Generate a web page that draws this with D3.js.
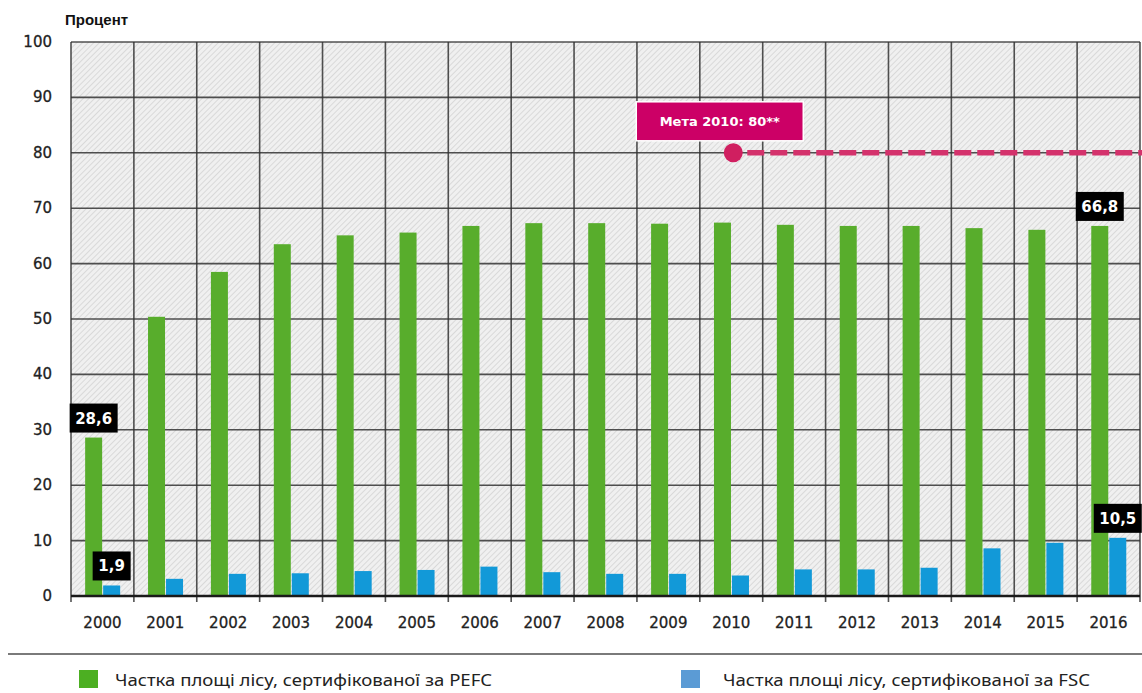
<!DOCTYPE html>
<html>
<head>
<meta charset="utf-8">
<script src="https://cdn.jsdelivr.net/npm/d3@7"></script>
<style>
  body { margin: 0; background: #fff; }
  svg { display: block; }
</style>
</head>
<body>
<svg id="chart"></svg>
<script>
let years = ["2000","2001","2002","2003","2004","2005","2006","2007","2008","2009","2010","2011","2012","2013","2014","2015","2016"];
let pefc = [28.6, 50.4, 58.5, 63.5, 65.1, 65.6, 66.8, 67.3, 67.3, 67.2, 67.4, 67.0, 66.8, 66.8, 66.4, 66.1, 66.8];
let fsc = [1.9, 3.1, 4.0, 4.1, 4.5, 4.7, 5.3, 4.3, 4.0, 4.0, 3.7, 4.8, 4.8, 5.1, 8.6, 9.6, 10.5];
let yTicks = [0, 10, 20, 30, 40, 50, 60, 70, 80, 90, 100];
let labels = [
    {series: "pefc", year: "2000", text: "28,6"},
    {series: "fsc", year: "2000", text: "1,9"},
    {series: "pefc", year: "2016", text: "66,8"},
    {series: "fsc", year: "2016", text: "10,5"}
];
let target = {year: "2010", value: 80, text: "Мета 2010: 80**"};
let legendItems = ["Частка площі лісу, сертифікованої за PEFC", "Частка площі лісу, сертифікованої за FSC"];

let width = 1142, height = 693;
let margin = {left: 71, right: 2, top: 42, bottom: 97};

let svg = d3.select("#chart")
    .attr("width", width)
    .attr("height", height);

let x = d3.scaleBand().domain(years).range([margin.left, width - margin.right]).padding(0);
let y = d3.scaleLinear().domain([0, 100]).range([height - margin.bottom, margin.top]);

let bw = x.bandwidth();
let barW = 17;
let greenOff = bw * 0.225, blueOff = greenOff + barW + 1;

//////////////////////////////////////////// hatch background
let defs = svg.append("defs");
let pat = defs.append("pattern")
    .attr("id", "hatch")
    .attr("patternUnits", "userSpaceOnUse")
    .attr("width", 4).attr("height", 4)
    .attr("patternTransform", "rotate(45)");
pat.append("rect").attr("width", 4).attr("height", 4).attr("fill", "#f0f0f0");
pat.append("line").attr("x1", 0).attr("y1", 0).attr("x2", 0).attr("y2", 4)
    .attr("stroke", "#cdcdcd").attr("stroke-width", 1.3);

svg.append("rect")
    .attr("x", margin.left).attr("y", y(100))
    .attr("width", width - margin.right - margin.left)
    .attr("height", y(0) - y(100))
    .attr("fill", "url(#hatch)");

//////////////////////////////////////////// grid
svg.append("g")
    .selectAll("line")
    .data(yTicks.filter(d => d > 0))
    .enter().append("line")
    .attr("x1", margin.left).attr("x2", width - margin.right)
    .attr("y1", d => y(d)).attr("y2", d => y(d))
    .attr("stroke", "#333").attr("stroke-width", 1.6).attr("stroke-opacity", 0.85);

let bounds = years.map(d => x(d)).concat([x(years[years.length - 1]) + bw]);
svg.append("g")
    .selectAll("line")
    .data(bounds)
    .enter().append("line")
    .attr("x1", d => d).attr("x2", d => d)
    .attr("y1", y(100)).attr("y2", y(0) + 6)
    .attr("stroke", "#333").attr("stroke-width", 1.6).attr("stroke-opacity", 0.85);

//////////////////////////////////////////// bars
svg.append("g")
    .selectAll("rect")
    .data(years)
    .enter().append("rect")
    .attr("x", d => x(d) + greenOff)
    .attr("y", (d, i) => y(pefc[i]))
    .attr("width", barW)
    .attr("height", (d, i) => y(0) - y(pefc[i]))
    .attr("fill", "#58ad2c");

svg.append("g")
    .selectAll("rect")
    .data(years)
    .enter().append("rect")
    .attr("x", d => x(d) + blueOff)
    .attr("y", (d, i) => y(fsc[i]))
    .attr("width", barW)
    .attr("height", (d, i) => y(0) - y(fsc[i]))
    .attr("fill", "#1299d8");

//////////////////////////////////////////// axes
svg.append("line")
    .attr("x1", margin.left).attr("x2", width - margin.right)
    .attr("y1", y(0)).attr("y2", y(0))
    .attr("stroke", "#1a1a1a").attr("stroke-width", 2.6);

svg.append("g")
    .selectAll("text")
    .data(yTicks)
    .enter().append("text")
    .attr("x", 52).attr("y", d => y(d) + 5)
    .attr("text-anchor", "end")
    .attr("font-family", "DejaVu Sans, Verdana, sans-serif")
    .attr("font-size", 15)
    .attr("fill", "#222")
    .attr("stroke", "#222").attr("stroke-width", 0.3)
    .text(d => d);

svg.append("g")
    .selectAll("text")
    .data(years)
    .enter().append("text")
    .attr("x", d => x(d) + bw / 2)
    .attr("y", y(0) + 32)
    .attr("text-anchor", "middle")
    .attr("font-family", "DejaVu Sans, Verdana, sans-serif")
    .attr("font-size", 15)
    .attr("fill", "#222")
    .attr("stroke", "#222").attr("stroke-width", 0.3)
    .text(d => d);

svg.append("text")
    .attr("x", 65).attr("y", 25)
    .attr("font-family", "Liberation Sans, Arial, sans-serif")
    .attr("font-weight", "bold")
    .attr("font-size", 15)
    .attr("fill", "#111")
    .text("Процент");

//////////////////////////////////////////// value labels
let lab = svg.append("g")
    .selectAll("g")
    .data(labels)
    .enter().append("g")
    .attr("transform", function(d) {
        let i = years.indexOf(d.year);
        let v = d.series === "pefc" ? pefc[i] : fsc[i];
        let cx = x(d.year) + (d.series === "pefc" ? greenOff : blueOff) + barW / 2;
        return "translate(" + cx + "," + (y(v) - 5) + ")";
    });
lab.append("rect")
    .attr("x", d => d.text.length > 3 ? -24 : -19)
    .attr("y", -29)
    .attr("width", d => d.text.length > 3 ? 48 : 38)
    .attr("height", 29)
    .attr("fill", "#000");
lab.append("text")
    .attr("y", -9)
    .attr("text-anchor", "middle")
    .attr("font-family", "DejaVu Sans, Verdana, sans-serif")
    .attr("font-weight", "bold")
    .attr("font-size", 15)
    .attr("fill", "#fff")
    .text(d => d.text);

//////////////////////////////////////////// target
let tx = x(target.year) + bw / 2 + 2, ty = y(target.value);
svg.append("line")
    .attr("x1", tx).attr("x2", width)
    .attr("y1", ty).attr("y2", ty)
    .attr("stroke", "#d4326c").attr("stroke-width", 5.5)
    .attr("stroke-dasharray", "17,6").attr("stroke-dashoffset", -14);
svg.append("circle")
    .attr("cx", tx).attr("cy", ty).attr("r", 9.5)
    .attr("fill", "#d01f60");
svg.append("rect")
    .attr("x", tx - 97).attr("y", ty - 51)
    .attr("width", 167).attr("height", 39)
    .attr("fill", "#cc0066")
    .attr("stroke", "#fff").attr("stroke-width", 1.5);
svg.append("text")
    .attr("x", tx - 97 + 167 / 2).attr("y", ty - 27)
    .attr("text-anchor", "middle")
    .attr("font-family", "DejaVu Sans, Verdana, sans-serif")
    .attr("font-weight", "bold")
    .attr("font-size", 13)
    .attr("fill", "#fff")
    .text(target.text);

//////////////////////////////////////////// legend
svg.append("line")
    .attr("x1", 8).attr("x2", width)
    .attr("y1", 654).attr("y2", 654)
    .attr("stroke", "#7a7a7a").attr("stroke-width", 2);

let legX = [79, 681], legC = ["#4caf22", "#5b9bd5"];
let leg = svg.append("g")
    .selectAll("g")
    .data(legendItems)
    .enter().append("g")
    .attr("transform", (d, i) => "translate(" + legX[i] + ",670)");
leg.append("rect")
    .attr("width", 19).attr("height", 18)
    .attr("fill", (d, i) => legC[i]);
leg.append("text")
    .attr("x", (d, i) => i === 0 ? 36 : 42)
    .attr("y", 16)
    .attr("font-family", "Noto Sans, Open Sans, sans-serif")
    .attr("font-size", 16)
    .attr("fill", "#222")
    .attr("textLength", (d, i) => i === 0 ? 377 : 367)
    .attr("lengthAdjust", "spacingAndGlyphs")
    .text(d => d);
</script>
</body>
</html>
